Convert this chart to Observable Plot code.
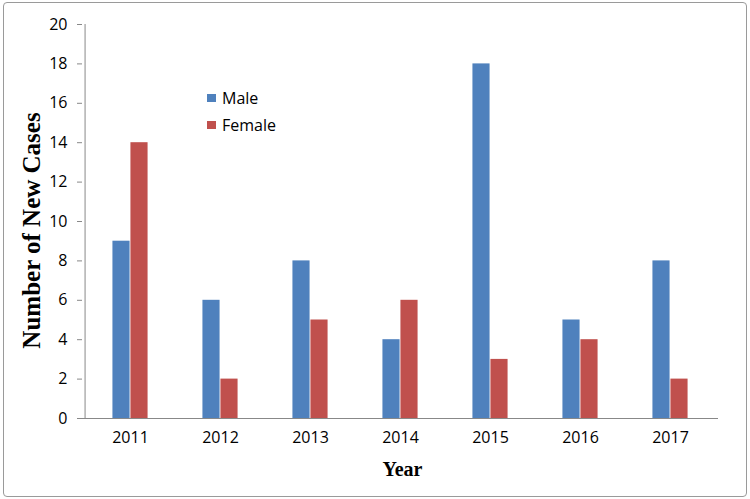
<!DOCTYPE html>
<html>
<head>
<meta charset="utf-8">
<script src="https://cdn.jsdelivr.net/npm/d3@7"></script>
<script src="https://cdn.jsdelivr.net/npm/@observablehq/plot@0.6"></script>
<style>
  html, body { margin: 0; padding: 0; background: #fff; }
  #wrap { position: relative; width: 750px; height: 499px; overflow: hidden; }
  #border { position: absolute; left: 3px; top: 2px; width: 742px; height: 493px; border: 1px solid #9a9a9a; border-radius: 4px; pointer-events: none; }
  #legend { position: absolute; left: 207px; top: 84px; font-family: "Open Sans", sans-serif; font-size: 16px; color: #000; }
  .item { display: flex; align-items: center; height: 27px; }
  .sw { width: 9px; height: 8px; margin-right: 6px; }
  svg { position: absolute; left: 0; top: 0; }
</style>
</head>
<body>
<div id="wrap"></div>
<script>
const years = ["2011", "2012", "2013", "2014", "2015", "2016", "2017"];
const male = [9, 6, 8, 4, 18, 5, 8];
const female = [14, 2, 5, 6, 3, 4, 2];
const series = ["Male", "Female"];
const colors = ["#4F81BD", "#C0504D"];
const yTicks = [0, 2, 4, 6, 8, 10, 12, 14, 16, 18, 20];

const data = [];
years.forEach((y, i) => {
  data.push({year: y, sex: "Male", value: male[i]});
  data.push({year: y, sex: "Female", value: female[i]});
});

const W = 750, H = 499, ML = 82, MR = 32, MT = 24, MB = 81;
const band = (W - ML - MR) / years.length;
const barW = 18;
const half = band / 2;

const plot = Plot.plot({
  width: W, height: H,
  marginLeft: ML, marginRight: MR, marginTop: MT, marginBottom: MB,
  style: {fontFamily: "'Open Sans', sans-serif", fontSize: "16px", color: "#000", background: "transparent"},
  x: {domain: years, padding: 0, label: null},
  y: {domain: [0, 20], ticks: yTicks, label: null},
  color: {domain: series, range: colors},
  marks: [
    Plot.barY(data.filter(d => d.sex === "Male"), {x: "year", y: "value", fill: d => d.sex, insetLeft: half - barW, insetRight: half}),
    Plot.barY(data.filter(d => d.sex === "Female"), {x: "year", y: "value", fill: d => d.sex, insetLeft: half, insetRight: half - barW}),
    Plot.axisY({ticks: yTicks, tickSize: 5, tickPadding: 10, stroke: "#888", label: null, fontSize: 16}),
    Plot.axisX({tickSize: 0, tickPadding: 13, label: null, fontSize: 16}),
    Plot.ruleY([0], {stroke: "#888", insetLeft: -3}),
    Plot.ruleX([years[0]], {y1: 0, y2: 20, dx: -half, stroke: "#888"}),
    Plot.text(["Number of New Cases"], {frameAnchor: "left", dx: -51, dy: 9, rotate: -90, textAnchor: "middle", lineAnchor: "middle", fontFamily: "'Liberation Serif', 'Times New Roman', serif", fontWeight: "bold", fontSize: 25, fill: "#000"}),
    Plot.text(["Year"], {frameAnchor: "bottom", dx: 2, dy: 51, textAnchor: "middle", lineAnchor: "middle", fontFamily: "'Liberation Serif', 'Times New Roman', serif", fontWeight: "bold", fontSize: 20, fill: "#000"})
  ]
});

const wrap = document.getElementById("wrap");
wrap.appendChild(plot);
const border = document.createElement("div");
border.id = "border";
wrap.appendChild(border);
const legend = document.createElement("div");
legend.id = "legend";
series.forEach((s, i) => {
  const it = document.createElement("div");
  it.className = "item";
  const sw = document.createElement("span");
  sw.className = "sw";
  sw.style.background = colors[i];
  const t = document.createElement("span");
  t.textContent = s;
  it.appendChild(sw); it.appendChild(t);
  legend.appendChild(it);
});
wrap.appendChild(legend);
</script>
</body>
</html>
